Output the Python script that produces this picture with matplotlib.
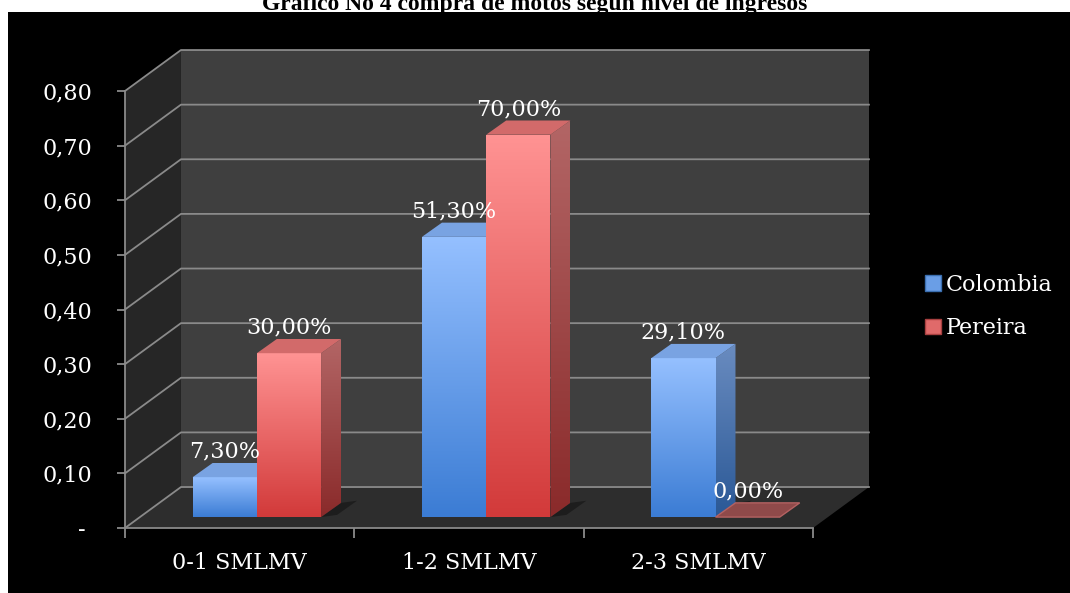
import numpy as np
import matplotlib
matplotlib.use("Agg")
import matplotlib.pyplot as plt
from matplotlib.patches import Polygon, Rectangle, Patch
from matplotlib.colors import LinearSegmentedColormap

# Data
categories = ["0-1 SMLMV", "1-2 SMLMV", "2-3 SMLMV"]
colombia = [0.073, 0.513, 0.291]
pereira = [0.30, 0.70, 0.0]
series_names = ["Colombia", "Pereira"]
yticks = [0.0, 0.1, 0.2, 0.3, 0.4, 0.5, 0.6, 0.7, 0.8]
ytick_labels = ["- ", "0,10", "0,20", "0,30", "0,40", "0,50", "0,60", "0,70", "0,80"]
title = "Gráfico No 4 compra de motos según nivel de ingresos"

# fake 3d geometry (data units)
WALL_DX, WALL_DY = 0.244, 0.075
BAR_X0, BAR_Y0 = 0.065, 0.020
BAR_DX, BAR_DY = 0.087, 0.026
BAR_W = 0.28
BAR_OFF = [0.23, 0.51]

GRID = "#8a8a8a"
FONT = "DejaVu Serif"
FS = 16

# colours: front (bottom, top), side (bottom, top), top face
styles = [
    {"front": ("#3b7cd4", "#95c0ff"), "side": ("#2a5896", "#6a8cc0"), "top": "#79a3e2"},
    {"front": ("#d23a3a", "#ff9393"), "side": ("#8a2a2a", "#b36666"), "top": "#d26a6a"},
]

fig = plt.figure(figsize=(10.7, 5.93), dpi=100)
fig.patch.set_facecolor("white")

# title sits behind the black chart area
fig.text(0.5, 1 - 10 / 593, title, ha="center", va="baseline",
         family="Liberation Serif", fontweight="bold", fontsize=17, zorder=-2)
fig.patches.append(Rectangle((8 / 1070, 0), 1, (593 - 12) / 593, transform=fig.transFigure,
                             facecolor="black", edgecolor="none", zorder=-1))

ax = fig.add_axes([125 / 1070, 65 / 593, 688 / 1070, 437 / 593])
ax.patch.set_visible(False)
ax.set_xlim(0, 3)
ax.set_ylim(0, 0.8)

nc = len(categories)
top = yticks[-1]

# walls and floor
side_wall = Polygon([(0, 0), (0, top), (WALL_DX, top + WALL_DY), (WALL_DX, WALL_DY)],
                    facecolor="#262626", edgecolor="none", clip_on=False, zorder=0)
back_wall = Polygon([(WALL_DX, WALL_DY), (WALL_DX, top + WALL_DY),
                     (nc + WALL_DX, top + WALL_DY), (nc + WALL_DX, WALL_DY)],
                    facecolor="#3f3f3f", edgecolor="none", clip_on=False, zorder=0)
floor = Polygon([(0, 0), (nc, 0), (nc + WALL_DX, WALL_DY), (WALL_DX, WALL_DY)],
                facecolor="#2d2d2d", edgecolor="none", clip_on=False, zorder=0)
for p in (side_wall, back_wall, floor):
    ax.add_patch(p)

for v in yticks:
    ax.plot([0, WALL_DX, nc + WALL_DX], [v, v + WALL_DY, v + WALL_DY],
            color=GRID, lw=1.3, clip_on=False, zorder=1)


def grad_face(verts, c_bottom, c_top, zorder):
    verts = np.asarray(verts)
    poly = Polygon(verts, facecolor="none", edgecolor="none", transform=ax.transData)
    cmap = LinearSegmentedColormap.from_list("g", [c_bottom, c_top])
    g = np.linspace(0, 1, 256).reshape(-1, 1)
    x0, y0 = verts.min(axis=0)
    x1, y1 = verts.max(axis=0)
    im = ax.imshow(g, extent=[x0, x1, y0, y1], origin="lower", cmap=cmap,
                   aspect="auto", interpolation="bilinear", zorder=zorder)
    im.set_clip_path(poly)


def draw_bar(x, h, st, z):
    bx, by = x + BAR_X0, BAR_Y0
    if h <= 0:
        ax.add_patch(Polygon([(bx, by), (bx + BAR_W, by), (bx + BAR_W + BAR_DX, by + BAR_DY),
                              (bx + BAR_DX, by + BAR_DY)],
                             facecolor="#8f4a4a", edgecolor="#b46262", lw=1, zorder=z))
        return
    # soft shadow on the floor
    ax.add_patch(Polygon([(bx + BAR_W, by), (bx + BAR_W + 0.07, by + 0.004),
                          (bx + BAR_W + BAR_DX + 0.07, by + BAR_DY + 0.004),
                          (bx + BAR_W + BAR_DX, by + BAR_DY)],
                         facecolor="black", alpha=0.35, edgecolor="none", zorder=z - 0.5))
    grad_face([(bx, by), (bx + BAR_W, by), (bx + BAR_W, by + h), (bx, by + h)],
              st["front"][0], st["front"][1], z)
    grad_face([(bx + BAR_W, by), (bx + BAR_W + BAR_DX, by + BAR_DY),
               (bx + BAR_W + BAR_DX, by + h + BAR_DY), (bx + BAR_W, by + h)],
              st["side"][0], st["side"][1], z)
    ax.add_patch(Polygon([(bx, by + h), (bx + BAR_W, by + h),
                          (bx + BAR_W + BAR_DX, by + h + BAR_DY), (bx + BAR_DX, by + h + BAR_DY)],
                         facecolor=st["top"], edgecolor="none", zorder=z))


z = 3
for i in range(nc):
    for s, vals in enumerate([colombia, pereira]):
        x = i + BAR_OFF[s]
        draw_bar(x, vals[i], styles[s], z)
        z += 1

# data labels
for i in range(nc):
    for s, vals in enumerate([colombia, pereira]):
        v = vals[i]
        bx = i + BAR_OFF[s] + BAR_X0
        ax.annotate(f"{v * 100:.2f}%".replace(".", ","),
                    (bx + BAR_W / 2, BAR_Y0 + v + BAR_DY), xytext=(0, 4),
                    textcoords="offset points", ha="center", va="baseline",
                    color="white", family=FONT, fontsize=FS, zorder=50)

ax.set_xlim(0, nc)
ax.set_ylim(0, top)

# axes styling
for k in ("top", "right"):
    ax.spines[k].set_visible(False)
for k in ("left", "bottom"):
    ax.spines[k].set_color(GRID)
    ax.spines[k].set_linewidth(1.3)
    ax.spines[k].set_zorder(2)

ax.set_yticks(yticks)
ax.set_yticklabels(ytick_labels)
ax.tick_params(axis="y", direction="out", length=5.5, width=1.3, color=GRID,
               pad=18, labelcolor="white", labelsize=FS)
for lab in ax.get_yticklabels():
    lab.set_family(FONT)

ax.set_xticks(range(nc + 1))
ax.set_xticklabels([])
ax.set_xticks([i + 0.5 for i in range(nc)], minor=True)
ax.set_xticklabels(categories, minor=True)
ax.tick_params(axis="x", which="major", direction="out", length=7, width=1.3, color=GRID)
ax.tick_params(axis="x", which="minor", length=0, pad=17, labelcolor="white", labelsize=FS)
for lab in ax.get_xticklabels(minor=True):
    lab.set_family(FONT)

handles = [Patch(facecolor="#6a9ee6", edgecolor="#3b6fb0"),
           Patch(facecolor="#e06a6a", edgecolor="#a84040")]
leg = fig.legend(handles, series_names, loc="center left",
                 bbox_to_anchor=(925 / 1070, 1 - 306.5 / 593), frameon=False,
                 prop={"family": FONT, "size": FS}, labelcolor="white",
                 handlelength=0.7, handleheight=0.7, handletextpad=0.25,
                 labelspacing=0.95, borderpad=0, borderaxespad=0)

fig.savefig("out.png", dpi=100, facecolor=fig.get_facecolor())
